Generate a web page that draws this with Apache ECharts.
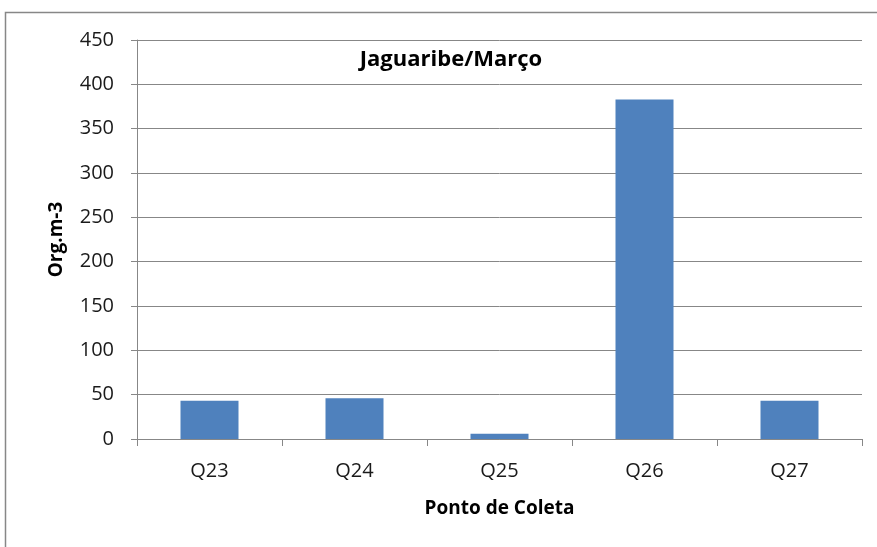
<!DOCTYPE html>
<html>
<head>
<meta charset="utf-8">
<script src="https://cdn.jsdelivr.net/npm/echarts@6/dist/echarts.min.js"></script>
<style>
html,body{margin:0;padding:0;background:#fff;}
#container{width:877px;height:547px;}
</style>
</head>
<body>
<div id="container"></div>
<script>
// dados do grafico
var pontos = ['Q23', 'Q24', 'Q25', 'Q26', 'Q27'];
var valores = [43, 46, 6, 383, 43];
var titulo = 'Jaguaribe/Março';
var nomeEixoY = 'Org.m-3';
var nomeEixoX = 'Ponto de Coleta';

var fonte = '"Open Sans", "Liberation Sans", sans-serif';
var myChart = echarts.init(document.getElementById('container'));
var option = {
    animation: false,
    backgroundColor: '#fff',
    title: {
        text: titulo,
        left: 446,
        top: 44,
        textAlign: 'center',
        textStyle: {fontFamily: fonte, fontSize: 22, fontWeight: 'bold', color: '#000'}
    },
    graphic: [{
        type: 'rect',
        shape: {x: 5.5, y: 12.5, width: 1000, height: 1000},
        style: {fill: 'none', stroke: '#878787', lineWidth: 1.5},
        silent: true
    }],
    grid: {left: 137, right: 15, top: 40, bottom: 108},
    xAxis: {
        type: 'category',
        data: pontos,
        name: nomeEixoX,
        nameLocation: 'middle',
        nameGap: 60,
        nameTextStyle: {fontFamily: fonte, fontSize: 19, fontWeight: 'bold', color: '#000'},
        axisLine: {lineStyle: {color: '#878787', width: 1}},
        axisTick: {show: true, alignWithLabel: false, length: 7, lineStyle: {color: '#878787'}},
        axisLabel: {fontFamily: fonte, fontSize: 20, color: '#1a1a1a', margin: 22}
    },
    yAxis: {
        type: 'value',
        min: 0,
        max: 450,
        interval: 50,
        name: nomeEixoY,
        nameLocation: 'middle',
        nameGap: 71,
        nameTextStyle: {fontFamily: fonte, fontSize: 19, fontWeight: 'bold', color: '#000'},
        axisLine: {show: true, lineStyle: {color: '#878787', width: 1}},
        axisTick: {show: true, length: 6, lineStyle: {color: '#878787'}},
        axisLabel: {fontFamily: fonte, fontSize: 20, color: '#1a1a1a', margin: 23},
        splitLine: {lineStyle: {color: '#878787', width: 1}}
    },
    series: [{
        type: 'bar',
        data: valores,
        barWidth: '40%',
        itemStyle: {color: '#4f81bd'}
    }]
};
myChart.setOption(option);
</script>
</body>
</html>
